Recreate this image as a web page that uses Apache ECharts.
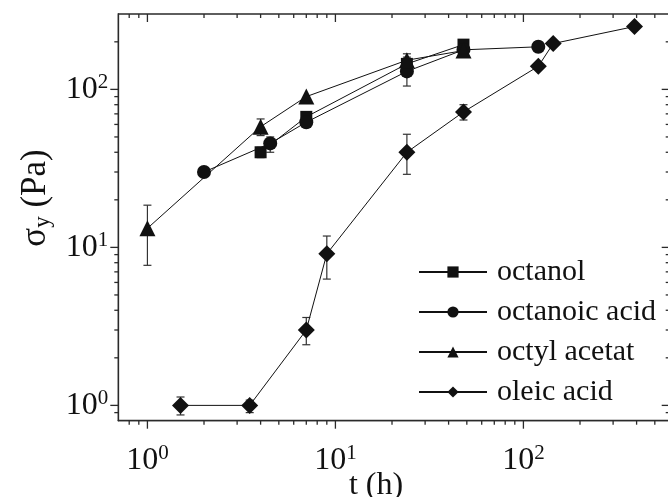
<!DOCTYPE html>
<html>
<head>
<meta charset="utf-8">
<script src="https://cdn.jsdelivr.net/npm/echarts@6/dist/echarts.min.js"></script>
<style>
html,body{margin:0;padding:0;background:#fff;}
#c{width:668px;height:497px;}
</style>
</head>
<body>
<div id="c"></div>
<script>
// ---- data (t in hours, sigma_y in Pa) ----
const seriesNames = ['octanol', 'octanoic acid', 'octyl acetat', 'oleic acid'];

const octanolT = [4, 7, 24, 48];
const octanolY = [40, 67, 145, 192];
const octanolErr = [[4, 37, 43], [7, 62, 71], [24, 135, 160]];

const octanoicT = [2, 4.5, 7, 24, 48, 120];
const octanoicY = [30, 45.5, 62, 130, 178, 186];
const octanoicErr = [[4.5, 40, 50], [24, 105, 150], [120, 174, 200]];

const acetatT = [1, 4, 7, 24, 48];
const acetatY = [13.2, 58, 90, 153, 176];
const acetatErr = [[1, 7.7, 18.5], [4, 51, 65], [24, 142, 168]];

const oleicT = [1.5, 3.5, 7, 9, 24, 48, 120, 144, 390];
const oleicY = [1, 1, 3, 9.1, 40, 72, 140, 195, 250];
const oleicErr = [[1.5, 0.87, 1.13], [3.5, 0.9, 1.08], [7, 2.42, 3.6], [9, 6.3, 11.8], [24, 29, 52], [48, 64, 80]];

const xMin = 0.7, xMax = 600;
const yMin = 0.8, yMax = 300;
const xDecades = [-1, 0, 1, 2];
const yDecades = [-1, 0, 1, 2];

const xTitle = 't (h)';
const yTitle = '{a|σ}{u|y}{a| (Pa)}';

// ---- build ----
const pairs = (t, y) => t.map((v, i) => [v, y[i]]);
const FONT = '"Liberation Serif", "Times New Roman", serif';
const INK = '#111';
const FRAME = '#2a2a2a';

// frame ticks (log-decade minor ticks on all four sides)
const ticks = [];
xDecades.forEach(d => {
  for (let k = 1; k <= 9; k++) {
    const v = k * Math.pow(10, d);
    if (v > xMin * 1.0001 && v < xMax * 0.9999) {
      ticks.push([v, yMin, 0, k === 1 ? 1 : 0]); // bottom
      ticks.push([v, yMax, 1, k === 1 ? 1 : 0]); // top
    }
  }
});
yDecades.forEach(d => {
  for (let k = 1; k <= 9; k++) {
    const v = k * Math.pow(10, d);
    if (v > yMin * 1.0001 && v < yMax * 0.9999) {
      ticks.push([xMin, v, 2, k === 1 ? 1 : 0]); // left
      ticks.push([xMax, v, 3, k === 1 ? 1 : 0]); // right
    }
  }
});

function tickRender(params, api) {
  const side = api.value(2), major = api.value(3);
  const p = api.coord([api.value(0), api.value(1)]);
  const len = major ? 8 : 4;
  let x2 = p[0], y2 = p[1];
  if (side === 0) y2 = p[1] + len;      // bottom: outward
  else if (side === 1) y2 = p[1] + len; // top: inward
  else if (side === 2) x2 = p[0] - len; // left: outward
  else x2 = p[0] - len;                 // right: inward
  return {
    type: 'line',
    shape: { x1: p[0], y1: p[1], x2: x2, y2: y2 },
    style: { stroke: FRAME, lineWidth: 1.3 }
  };
}

function errRender(params, api) {
  const lo = api.coord([api.value(0), api.value(1)]);
  const hi = api.coord([api.value(0), api.value(2)]);
  const w = 4;
  const st = { stroke: '#333', lineWidth: 1.2 };
  return {
    type: 'group',
    children: [
      { type: 'line', shape: { x1: lo[0], y1: lo[1], x2: hi[0], y2: hi[1] }, style: st },
      { type: 'line', shape: { x1: lo[0] - w, y1: lo[1], x2: lo[0] + w, y2: lo[1] }, style: st },
      { type: 'line', shape: { x1: hi[0] - w, y1: hi[1], x2: hi[0] + w, y2: hi[1] }, style: st }
    ]
  };
}

function lineSeries(name, data, symbol, size) {
  return {
    name: name, type: 'line', data: data,
    symbol: symbol, symbolSize: size,
    itemStyle: { color: INK },
    lineStyle: { color: INK, width: 1 },
    z: 5, animation: false
  };
}
function errSeries(data) {
  return { type: 'custom', data: data, renderItem: errRender, z: 3, silent: true, animation: false };
}

function powLabel(v) {
  const e = Math.round(Math.log10(v));
  if (Math.abs(v - Math.pow(10, e)) / v > 1e-6) return '';
  return '{b|10}{s|' + e + '}';
}
const labelRich = {
  b: { fontFamily: FONT, fontSize: 32, color: INK },
  s: { fontFamily: FONT, fontSize: 21, color: INK, verticalAlign: 'top', padding: [0, 0, 14, 0] }
};

const chart = echarts.init(document.getElementById('c'), null, { renderer: 'canvas' });
chart.setOption({
  backgroundColor: '#fff',
  animation: false,
  grid: { left: 118.3, top: 14, width: 551.4, height: 406.7, show: true, borderColor: FRAME, borderWidth: 1.3, containLabel: false, outerBoundsMode: 'none' },
  xAxis: {
    type: 'log', logBase: 10, min: xMin, max: xMax,
    axisLine: { show: true, lineStyle: { color: FRAME, width: 1.3 } },
    axisTick: { show: false }, splitLine: { show: false }, minorTick: { show: false },
    axisLabel: { formatter: powLabel, rich: labelRich, margin: 22, showMinLabel: false, showMaxLabel: false }
  },
  yAxis: {
    type: 'log', logBase: 10, min: yMin, max: yMax,
    axisLine: { show: true, lineStyle: { color: FRAME, width: 1.3 } },
    axisTick: { show: false }, splitLine: { show: false }, minorTick: { show: false },
    axisLabel: { formatter: powLabel, rich: labelRich, margin: 10, showMinLabel: false, showMaxLabel: false }
  },
  graphic: [
    {
      type: 'text', x: 376, y: 486, silent: true,
      style: { text: xTitle, font: '32px ' + FONT, fill: INK, align: 'center', verticalAlign: 'middle' }
    },
    {
      type: 'text', x: 36, y: 198, rotation: Math.PI / 2, silent: true,
      style: {
        text: yTitle, align: 'center', verticalAlign: 'middle', fill: INK,
        rich: {
          a: { fontFamily: FONT, fontSize: 35, fill: INK },
          u: { fontFamily: FONT, fontSize: 23, fill: INK, verticalAlign: 'bottom', padding: [13, 0, 0, 0] }
        }
      }
    }
  ],
  legend: {
    orient: 'vertical', left: 418, top: 254, padding: 0,
    itemWidth: 68, itemHeight: 14, itemGap: 4,
    data: seriesNames,
    textStyle: { fontFamily: FONT, fontSize: 30, color: INK, lineHeight: 36, padding: [0, 0, 0, 5] }
  },
  series: [
    { type: 'custom', data: ticks, renderItem: tickRender, z: 2, silent: true, animation: false },
    errSeries(octanolErr), errSeries(octanoicErr), errSeries(acetatErr), errSeries(oleicErr),
    lineSeries(seriesNames[0], pairs(octanolT, octanolY), 'rect', 12),
    lineSeries(seriesNames[1], pairs(octanoicT, octanoicY), 'circle', 14),
    lineSeries(seriesNames[2], pairs(acetatT, acetatY), 'triangle', 16),
    lineSeries(seriesNames[3], pairs(oleicT, oleicY), 'diamond', 17)
  ]
});
</script>
</body>
</html>
